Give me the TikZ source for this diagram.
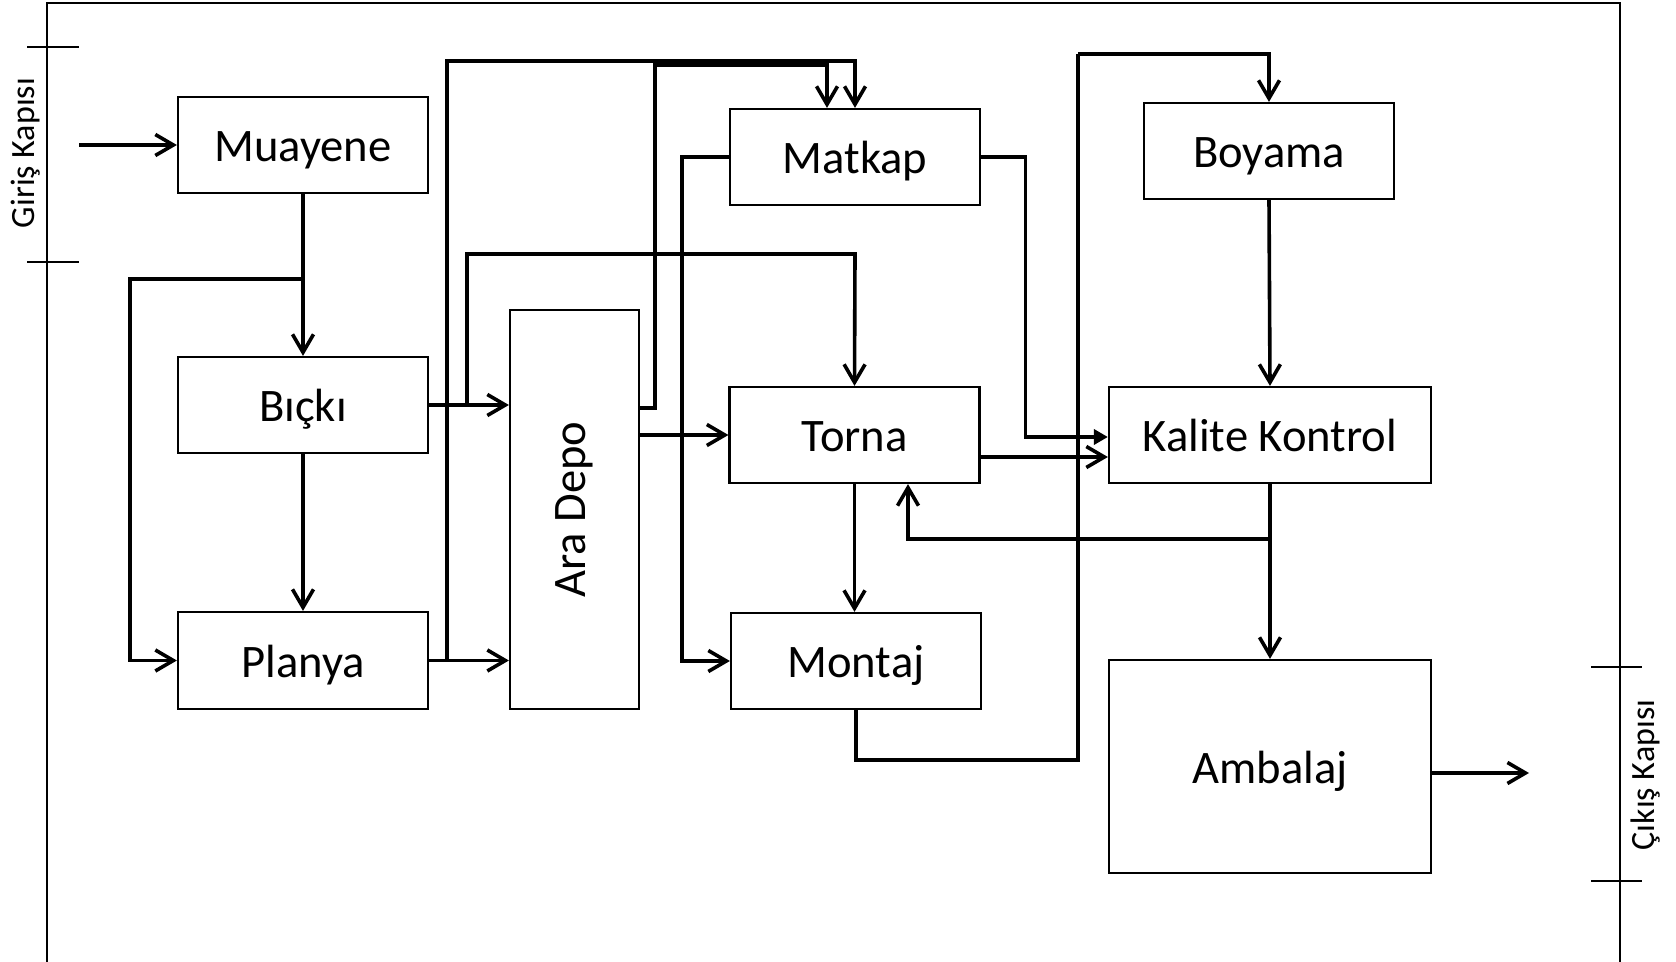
\documentclass[tikz,border=0pt]{standalone}
\usepackage{fontspec}
\setmainfont{Carlito}
\usetikzlibrary{arrows.meta,calc}
\begin{document}
\begin{tikzpicture}[x=0.5pt,y=-0.5pt,
  box/.style={draw,line width=1.1pt,inner sep=0pt,minimum width=125pt,minimum height=48pt,font=\fontsize{23.3}{28}\selectfont},
  htext/.style={text height=16.5pt,text depth=0pt},
  conn/.style={line width=1.8pt},
  arr/.style={conn,-{Straight Barb[length=9pt,width=10.5pt,line width=1.8pt]}},
  farr/.style={conn,-{Triangle[length=7pt,width=7.5pt]}},
  gate/.style={font=\fontsize{17}{20}\selectfont,rotate=90,inner sep=0pt},
  tick/.style={line width=0.6pt}]
\useasboundingbox (0,0) rectangle (1676,962);
% frame
\draw[line width=1pt] (47,962) -- (47,3) -- (1620,3) -- (1620,962);
\draw[tick] (27,47) -- (79,47);
\draw[tick] (27,262) -- (79,262);
\draw[tick] (1591,667) -- (1642,667);
\draw[tick] (1591,881) -- (1642,881);
\node[gate] (giris) at (26,153) {Giriş Kapısı};
\node[gate] (cikis) at (1646,775) {Çıkış Kapısı};
% boxes
\node[box,htext] (mu) at (303,145) {Muayene};
\node[box,htext] (bi) at (303,405) {Bıçkı};
\node[box,htext,minimum height=48.5pt] (pl) at (303,660.5) {Planya};
\node[box,minimum width=64.5pt,minimum height=199.5pt] (ad) at (574.5,509.5) {\rotatebox{90}{Ara Depo}};
\node[box,htext] (ma) at (855,157) {Matkap};
\node[box,htext] (to) at (854.5,435) {Torna};
\node[box,htext] (mo) at (856,661) {Montaj};
\node[box,htext,minimum width=125.25pt] (bo) at (1269,151) {Boyama};
\node[box,htext,minimum width=161pt] (kk) at (1270,435) {Kalite Kontrol};
\node[box,htext,minimum width=161pt,minimum height=106.5pt] (am) at (1270,766.5) {Ambalaj};
% coordinates
\coordinate (in) at (79,145);
\coordinate (out) at (1529,773);
\coordinate (br) at (303,279);
\coordinate (b2) at (467,405);
% connectors
\draw[arr] (in) -- (mu.west);
\draw[arr] (mu.south) -- (bi.north);
\draw[arr] (br) -- (130,279) |- (pl.west);
\draw[arr] (bi.south) -- (pl.north);
\draw[arr] (bi.east) -- (ad.west |- bi.east);
\draw[arr] (b2) |- (855,254) -- (to.north);
\draw[arr] (pl.east) -- (ad.west |- pl.east);
\draw[arr] (pl.east) -| (447,61) -| (ma.north);
\draw[arr] (ad.east |- 0,408) -| (655,65) -| ($(ma.north)+(-28,0)$);
\draw[arr] (ad.east |- to.west) -- (to.west);
\draw[arr] (ma.west) -- (682,157) |- (mo.west);
\draw[arr] (to.south) -- (to.south |- mo.north);
\draw[farr] (ma.east) -- (1025.5,157) |- (kk.west |- 0,437);
\draw[arr] (to.east |- 0,457) -- (kk.west |- 0,457);
\draw[arr] (kk.south) -- (am.north);
\draw[arr] (kk.south |- 0,539) -| (to.south -| 908,0);
\draw[conn] (mo.south) -- (856,760) -- (1078,760) -- (1078,54);
\draw[arr] (1078,54) -| (bo.north);
\draw[arr] (bo.south) -- (kk.north);
\draw[arr] (am.east |- out) -- (out);
\end{tikzpicture}
\end{document}
